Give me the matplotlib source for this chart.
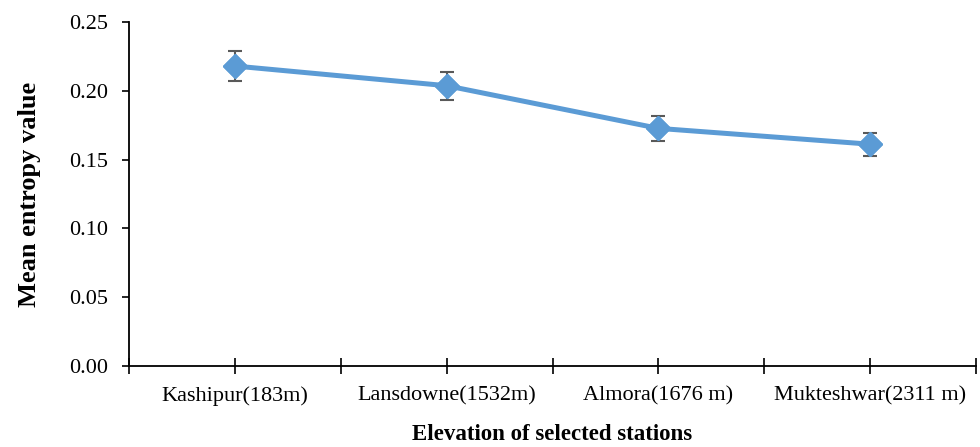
import matplotlib
matplotlib.use("Agg")
import matplotlib.pyplot as plt
import numpy as np

stations = ['Kashipur(183m)', 'Lansdowne(1532m)', 'Almora(1676 m)', 'Mukteshwar(2311 m)']
entropy = [0.218, 0.2037, 0.1727, 0.1612]
errors = [0.0109, 0.0103, 0.0089, 0.0083]
yticks = [0.00, 0.05, 0.10, 0.15, 0.20, 0.25]

plt.rcParams['font.family'] = ['Liberation Serif', 'DejaVu Serif']

fig = plt.figure(figsize=(9.8, 4.47), dpi=100)
ax = fig.add_axes([129 / 980, 1 - 366 / 447, (976 - 129) / 980, (366 - 22) / 447])

x = np.arange(len(stations))
ax.errorbar(x, entropy, yerr=errors, color='#5B9BD5', lw=3.6, marker='D', ms=12,
            ecolor='#595959', elinewidth=1.5, capsize=5, capthick=1.5, zorder=3)
# markers above the error bars
ax.plot(x, entropy, linestyle='none', marker='D', ms=12, color='#5B9BD5', zorder=4)

ax.set_xlim(-0.5, len(stations) - 0.5)
ax.set_ylim(0, 0.25)
ax.set_yticks(yticks)
ax.set_yticklabels(['%.2f' % v for v in yticks])
ax.set_xticks(np.arange(-0.5, len(stations), 0.5))
ax.set_xticklabels([''] + sum([[s, ''] for s in stations], []))

ax.spines['top'].set_visible(False)
ax.spines['right'].set_visible(False)
ax.spines['left'].set_linewidth(1.3)
ax.spines['bottom'].set_linewidth(1.3)
ax.tick_params(axis='both', length=6, width=1.2, labelsize=16, colors='black')
ax.tick_params(axis='x', direction='inout', length=11, pad=9)
ax.tick_params(axis='y', direction='out', length=5, pad=10)

ax.set_xlabel('Elevation of selected stations', fontsize=16.5, fontweight='bold')
ax.set_ylabel('Mean entropy value', fontsize=19, fontweight='bold')
ax.xaxis.set_label_coords(0.5, -0.168)
ax.yaxis.set_label_coords(-0.104, 0.5)

plt.savefig('out.png', dpi=100)
